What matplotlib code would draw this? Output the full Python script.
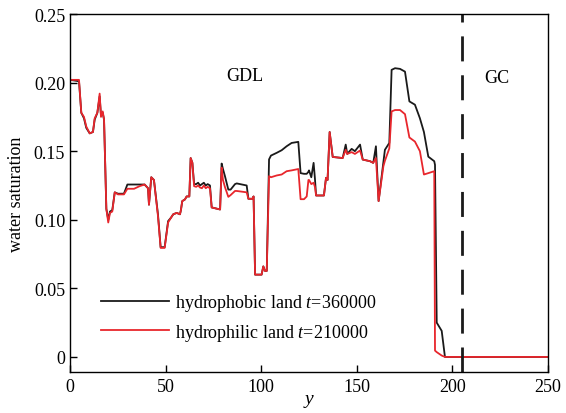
#!/usr/bin/env python3
import matplotlib
matplotlib.use("Agg")
import matplotlib.pyplot as plt

plt.rcParams['font.family'] = ['Liberation Serif', 'DejaVu Serif']
plt.rcParams['mathtext.fontset'] = 'custom'
plt.rcParams['mathtext.rm'] = 'Liberation Serif'
plt.rcParams['mathtext.it'] = 'Liberation Serif:italic'

# position along y (lattice units)
y_pos = [0, 4.7, 5.9, 7.3, 8.5, 10.3, 12, 12.9, 14.3, 15.5, 16.2, 17.1, 17.8,
         19, 20, 20.9, 22.1, 23.4, 25.1, 28.2, 30, 33.5, 36.4, 39, 40.8, 41.3,
         42.5, 43.9, 46, 47.4, 49.5, 51.3, 52.8, 54, 55.8, 57.5, 58, 58.7,
         60.1, 61, 62.4, 63.1, 64, 64.9, 66, 67, 68, 69, 70, 71, 72, 73.2,
         74.1, 78.5, 79.3, 80, 81, 82.8, 84, 86.3, 87.2, 92.4, 93.3, 95.4, 96,
         96.8, 100.2, 101.1, 102, 102.9, 104.1, 105.1, 108.1, 110.7, 113.3,
         115.9, 119.4, 120.6, 122.4, 123.8, 124.7, 125, 126.2, 127.4, 128.1,
         128.7, 132.8, 133.9, 134.7, 135.8, 137.4, 142.6, 144.2, 145, 147.3,
         149, 151.7, 153.1, 156.9, 158.6, 160, 161.4, 163.9, 164.7, 167,
         168.2, 170, 172.6, 175.2, 177.5, 180.4, 183, 185.1, 187.4, 190.5,
         190.9, 191.8, 194.4, 196.1, 250]

# hydrophobic land, t=360000 (black)
sat_phobic = [0.202, 0.201, 0.178, 0.174, 0.167, 0.163, 0.164, 0.173, 0.178,
              0.190, 0.176, 0.178, 0.173, 0.108, 0.100, 0.106, 0.107, 0.120,
              0.119, 0.119, 0.1257, 0.1257, 0.1257, 0.1257, 0.123, 0.111,
              0.131, 0.129, 0.104, 0.080, 0.080, 0.099, 0.1015, 0.104, 0.105,
              0.104, 0.107, 0.1136, 0.1148, 0.117, 0.117, 0.145, 0.1415,
              0.126, 0.126, 0.127, 0.125, 0.126, 0.127, 0.125, 0.126, 0.125,
              0.109, 0.1075, 0.141, 0.137, 0.132, 0.122, 0.122, 0.126,
              0.1265, 0.125, 0.1153, 0.1153, 0.117, 0.060, 0.060, 0.066,
              0.0627, 0.0627, 0.144, 0.1468, 0.1488, 0.1507, 0.1536, 0.156,
              0.1568, 0.134, 0.1335, 0.1335, 0.135, 0.136, 0.131, 0.1415,
              0.130, 0.1177, 0.1177, 0.1306, 0.129, 0.164, 0.1458, 0.145,
              0.1548, 0.148, 0.1517, 0.150, 0.1548, 0.1439, 0.1427, 0.1415,
              0.1536, 0.1136, 0.142, 0.151, 0.156, 0.2093, 0.2105, 0.210,
              0.208, 0.1863, 0.1839, 0.174, 0.164, 0.146, 0.1427, 0.140,
              0.025, 0.019, 0.0, 0.0]

# hydrophilic land, t=210000 (red)
sat_philic = [0.202, 0.202, 0.178, 0.175, 0.168, 0.163, 0.164, 0.174, 0.178,
              0.192, 0.175, 0.179, 0.173, 0.108, 0.098, 0.105, 0.106, 0.120,
              0.1185, 0.1185, 0.1226, 0.1226, 0.1245, 0.1257, 0.123, 0.111,
              0.131, 0.129, 0.1027, 0.0795, 0.0795, 0.098, 0.1015, 0.104,
              0.105, 0.104, 0.107, 0.1136, 0.1148, 0.117, 0.117, 0.145,
              0.1415, 0.1245, 0.124, 0.125, 0.1235, 0.123, 0.125, 0.123,
              0.124, 0.123, 0.109, 0.1075, 0.138, 0.129, 0.124, 0.1167, 0.118,
              0.121, 0.121, 0.120, 0.1153, 0.1153, 0.117, 0.060, 0.060, 0.066,
              0.0627, 0.0627, 0.1318, 0.131, 0.1323, 0.133, 0.1354, 0.136,
              0.137, 0.115, 0.115, 0.117, 0.129, 0.129, 0.126, 0.127, 0.124,
              0.1177, 0.1177, 0.1306, 0.129, 0.164, 0.1458, 0.145, 0.151,
              0.148, 0.1493, 0.148, 0.1505, 0.1439, 0.1427, 0.1415, 0.145,
              0.1136, 0.139, 0.143, 0.152, 0.179, 0.180, 0.180, 0.177, 0.160,
              0.157, 0.150, 0.133, 0.134, 0.1354, 0.0046, 0.0035, 0.001, 0.0,
              0.0]

gdl_gc_boundary = 205

fig = plt.figure(figsize=(5.66, 4.14), dpi=100)
ax = fig.add_axes([0.1237, 0.099, 0.8445, 0.8647])

ax.plot(y_pos, sat_phobic, color='#1a1a1a', lw=1.3,
        label='hydrophobic land $t$=360000')
ax.plot(y_pos, sat_philic, color='#e8262c', lw=1.3,
        label='hydrophilic land $t$=210000')
ax.axvline(gdl_gc_boundary, color='#1a1a1a', lw=2.0, dashes=(9, 5))

ax.text(91.5, 0.2055, 'GDL', fontsize=13, ha='center', va='center')
ax.text(223.3, 0.204, 'GC', fontsize=13, ha='center', va='center')

ax.set_xlim(0, 250)
ax.set_ylim(-0.011, 0.25)
ax.set_xticks([0, 50, 100, 150, 200, 250])
ax.set_yticks([0, 0.05, 0.10, 0.15, 0.20, 0.25])
ax.set_yticklabels(['0', '0.05', '0.10', '0.15', '0.20', '0.25'])
ax.tick_params(direction='in', length=5, labelsize=13, width=1)
ax.tick_params(axis='x', pad=4)
for s in ax.spines.values():
    s.set_linewidth(1.0)

ax.set_xlabel('$y$', fontsize=14, labelpad=-2)
ax.set_ylabel('water saturation', fontsize=13, labelpad=6)

ax.legend(loc='lower left', bbox_to_anchor=(0.03, 0.037), frameon=False,
          fontsize=13, handlelength=3.8, handletextpad=0.3, labelspacing=0.45)

plt.savefig('out.png', dpi=100)
